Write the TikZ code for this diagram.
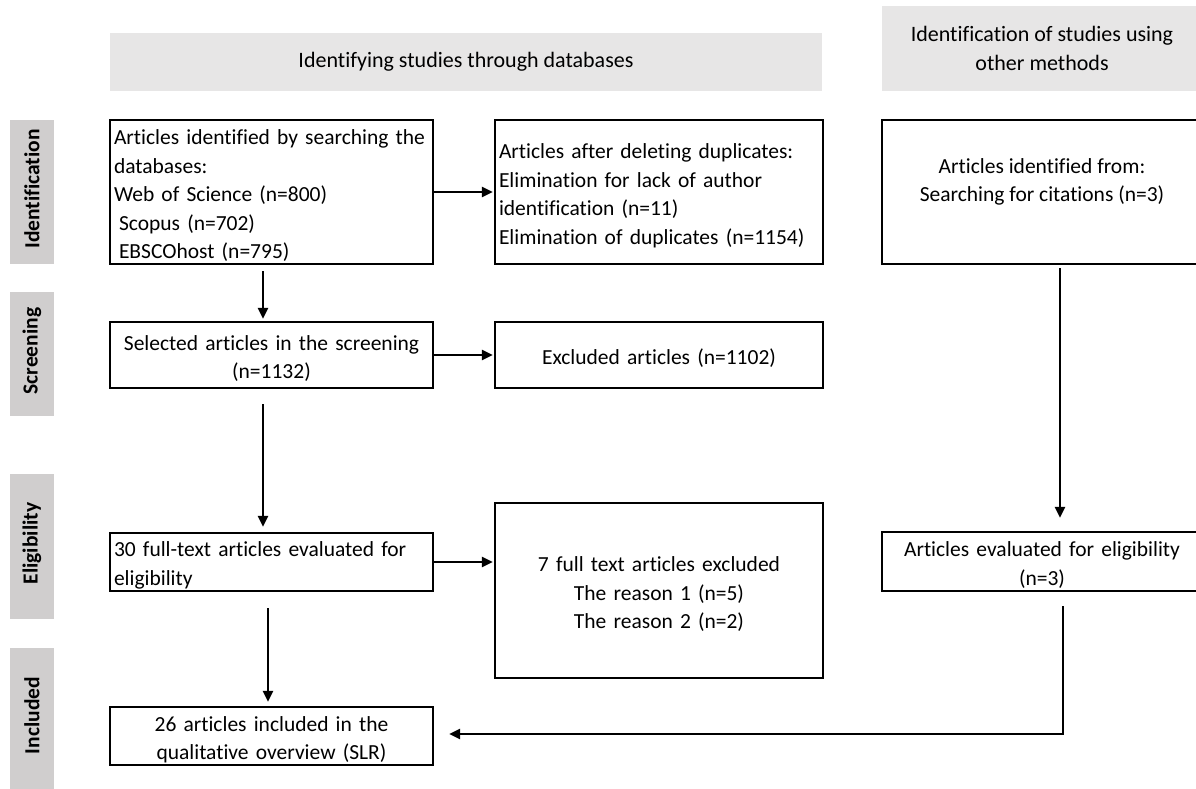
\documentclass[tikz,border=0pt]{standalone}
\usepackage{fontspec}
\setmainfont{Carlito}[Ligatures=NoCommon]
\usetikzlibrary{arrows.meta,positioning}

\definecolor{bannergray}{HTML}{E7E6E6}
\definecolor{phasegray}{HTML}{D0CECE}

\tikzset{
	every box/.style={draw, line width=2.2pt, inner xsep=4pt, inner ysep=0pt,
		font=\fontsize{21.5}{28.5}\selectfont},
	left box/.style={every box, align=left, execute at begin node={\rule{0pt}{22pt}}},
	centre box/.style={every box, align=center, execute at begin node={\rule{0pt}{22pt}}},
	banner/.style={fill=bannergray, inner sep=0pt, align=center, font=\fontsize{22}{28.5}\selectfont},
	phase/.style={fill=phasegray, inner sep=0pt, minimum width=44pt},
	box text/.style={align=center, inner sep=0pt, font=\fontsize{21.5}{28.5}\selectfont},
	flow/.style={->, line width=2.4pt}
}

\begin{document}
\begin{tikzpicture}[x=1pt, y=-1pt, >={Triangle[length=11pt,width=10pt]}]

		\useasboundingbox (0,0) rectangle (1196,789);

		% headings
		\node [banner, minimum width=712pt, minimum height=58pt] (db-banner) at (466,62) {Identifying studies through databases};
		\node [banner, minimum width=320pt, minimum height=85pt] (other-banner) at (1042,48.5) {Identification of studies using\\other methods};

		% phases
		\foreach \l/\t/\b in {Identification/120/264, Screening/292/416, Eligibility/474/619, Included/648/789}
			\node [phase, minimum height=\b pt-\t pt, label={[rotate=90, xshift=3pt, font=\fontsize{21.5}{24}\selectfont\bfseries]center:\l}] (phase-\l) at (32,{(\t+\b)/2}) {};

		% databases column
		\node [left box, text width=315pt, minimum height=144pt] (found) at (271.5,192)
			{Articles identified by searching the\\databases:\\Web of Science (n=800)\\\hspace*{5pt}Scopus (n=702)\\\hspace*{5pt}EBSCOhost (n=795)};
		\node [left box, text width=320pt, minimum height=144pt] (no-dup) at (659,192)
			{Articles after deleting duplicates:\\Elimination for lack of author\\identification (n=11)\\Elimination of duplicates (n=1154)};
		\node [centre box, text width=315pt, minimum height=66pt] (screened) at (271.5,355)
			{Selected articles in the screening\\(n=1132)};
		\node [centre box, text width=320pt, minimum height=66pt] (excluded) at (659,355)
			{Excluded articles (n=1102)};
		\node [left box, text width=315pt, minimum height=58pt] (eligible) at (271.5,562)
			{30 full-text articles evaluated for\\eligibility};
		\node [centre box, text width=320pt, minimum height=175pt] (full-excl) at (659,590.5)
			{7 full text articles excluded\\The reason 1 (n=5)\\The reason 2 (n=2)};
		\node [centre box, text width=315pt, minimum height=58pt] (included) at (271.5,736)
			{26 articles included in the\\qualitative overview (SLR)};

		% other methods column
		\node [every box, minimum width=320pt, minimum height=144pt] (other-found) at (1042,192) {};
		\node [box text] (other-found-text) at (1042,182) {Articles identified from:\\Searching for citations (n=3)};
		\node [centre box, text width=312pt, minimum height=59pt] (other-elig) at (1042,561.5)
			{Articles evaluated for eligibility\\(n=3)};
		\coordinate (other-line) at (1060,0);

		% arrows across
		\draw [flow, shorten >=1pt] (found) -- (no-dup);
		\draw [flow, shorten >=1pt] (screened) -- (excluded);
		\draw [flow, shorten >=1pt] (eligible.east) -- (eligible.east -| full-excl.west);

		% arrows down
		\draw [flow, shorten <=6pt, shorten >=2pt] ([xshift=-8.5pt]found.south) -- ([xshift=-8.5pt]screened.north);
		\draw [flow, shorten <=15pt, shorten >=5pt] ([xshift=-8.5pt]screened.south) -- ([xshift=-8.5pt]eligible.north);
		\draw [flow, shorten <=16pt, shorten >=4pt] ([xshift=-3.5pt]eligible.south) -- ([xshift=-3.5pt]included.north);
		\draw [flow, shorten <=3pt, shorten >=13pt] (other-found.south -| other-line) -- (other-elig.north -| other-line);
		\draw [flow, shorten <=14pt, shorten >=15pt] ([xshift=3pt]other-elig.south -| other-line) |- ([yshift=2pt]included.east);

\end{tikzpicture}
\end{document}
